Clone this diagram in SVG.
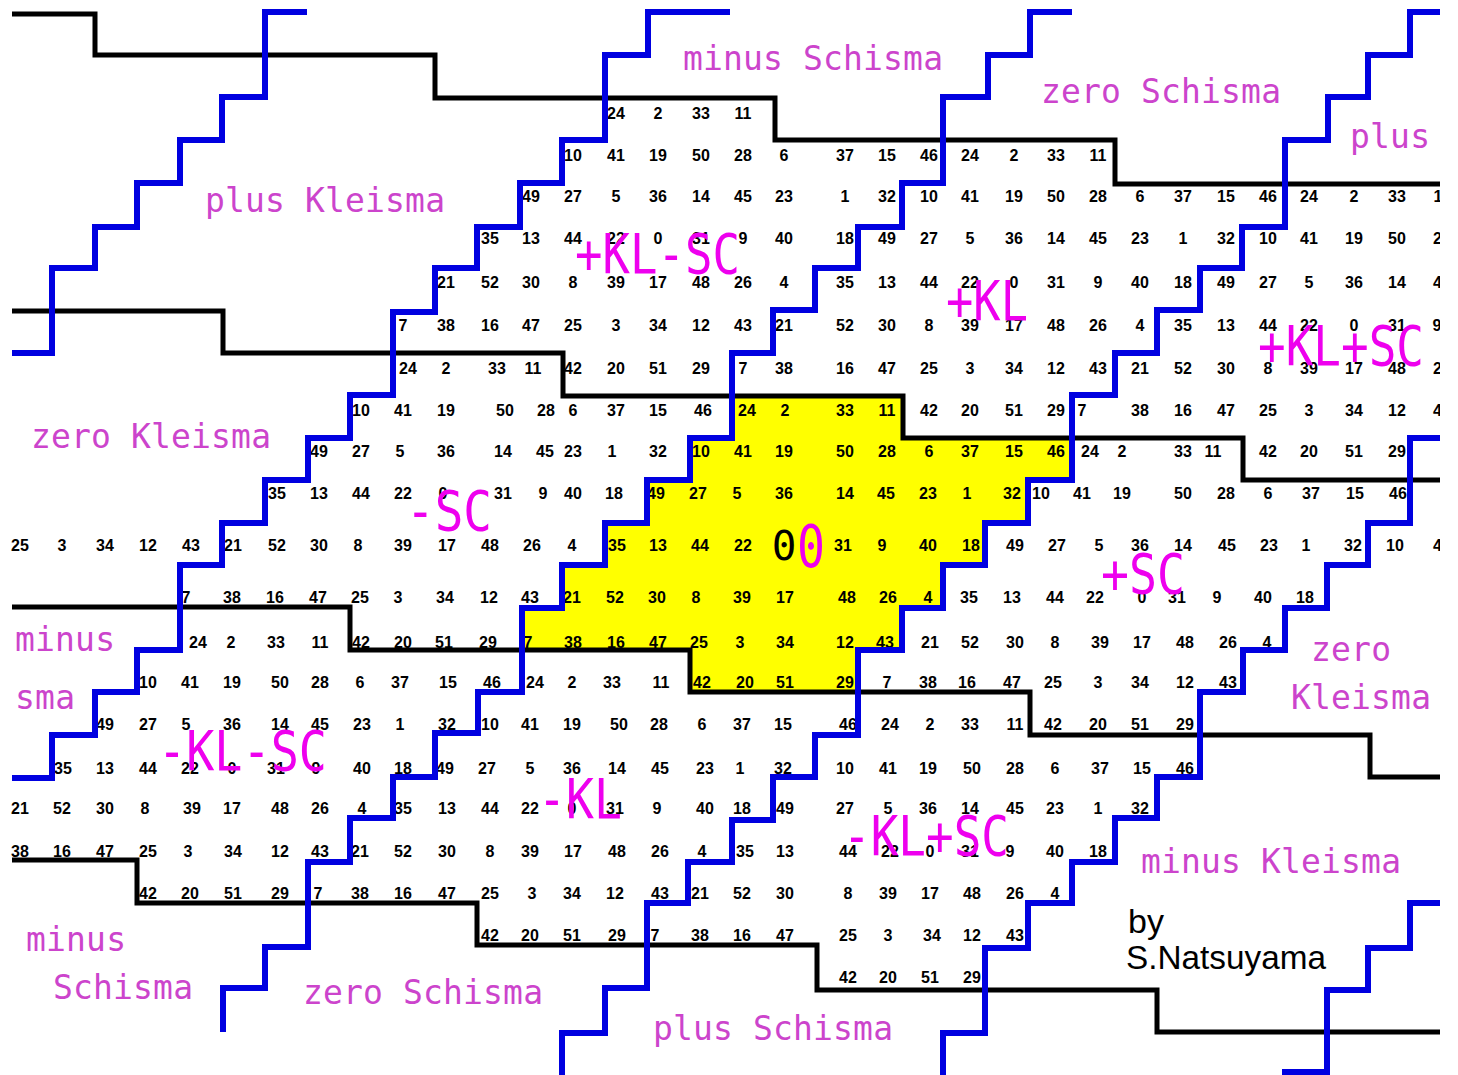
<svg xmlns="http://www.w3.org/2000/svg" width="1458" height="1075" viewBox="0 0 1458 1075">
<style>
.n{font-family:"Liberation Sans",Arial,sans-serif;font-size:16px;font-weight:bold;text-anchor:middle;fill:#000}
.lab{font-family:"DejaVu Sans Mono",monospace;font-size:33px;fill:#cc44cc}
.big{font-family:"DejaVu Sans Mono",monospace;font-size:56px;fill:#ee00ee}
.bk{fill:none;stroke:#000;stroke-width:5}
.bl{fill:none;stroke:#0000e0;stroke-width:6}
</style>
<defs><clipPath id="cp"><rect x="10" y="0" width="1430" height="1075"/></clipPath></defs>
<rect width="1458" height="1075" fill="#fff"/>
<g clip-path="url(#cp)">
<path id="yellow" d="M732,396 H903 V438 H1072 V480 H1028 V523 H985 V565 H943 V608 H902 V650 H858 V692 H690 V650 H522 V608 H562 V565 H605 V523 H647 V480 H690 V438 H732 Z" fill="#ffff00"/>
<g id="numbers" class="n">
<text id="r0" y="119"><tspan x="616">24</tspan><tspan x="658">2</tspan><tspan x="701">33</tspan><tspan x="743">11</tspan></text>
<text id="r1" y="161"><tspan x="573">10</tspan><tspan x="616">41</tspan><tspan x="658">19</tspan><tspan x="701">50</tspan><tspan x="743">28</tspan><tspan x="784">6</tspan><tspan x="845">37</tspan><tspan x="887">15</tspan><tspan x="929">46</tspan><tspan x="970">24</tspan><tspan x="1014">2</tspan><tspan x="1056">33</tspan><tspan x="1098">11</tspan></text>
<text id="r2" y="202"><tspan x="531">49</tspan><tspan x="573">27</tspan><tspan x="616">5</tspan><tspan x="658">36</tspan><tspan x="701">14</tspan><tspan x="743">45</tspan><tspan x="784">23</tspan><tspan x="845">1</tspan><tspan x="887">32</tspan><tspan x="929">10</tspan><tspan x="970">41</tspan><tspan x="1014">19</tspan><tspan x="1056">50</tspan><tspan x="1098">28</tspan><tspan x="1140">6</tspan><tspan x="1183">37</tspan><tspan x="1226">15</tspan><tspan x="1268">46</tspan><tspan x="1309">24</tspan><tspan x="1354">2</tspan><tspan x="1397">33</tspan><tspan x="1442">11</tspan></text>
<text id="r3" y="244"><tspan x="490">35</tspan><tspan x="531">13</tspan><tspan x="573">44</tspan><tspan x="616">22</tspan><tspan x="658">0</tspan><tspan x="701">31</tspan><tspan x="743">9</tspan><tspan x="784">40</tspan><tspan x="845">18</tspan><tspan x="887">49</tspan><tspan x="929">27</tspan><tspan x="970">5</tspan><tspan x="1014">36</tspan><tspan x="1056">14</tspan><tspan x="1098">45</tspan><tspan x="1140">23</tspan><tspan x="1183">1</tspan><tspan x="1226">32</tspan><tspan x="1268">10</tspan><tspan x="1309">41</tspan><tspan x="1354">19</tspan><tspan x="1397">50</tspan><tspan x="1442">28</tspan></text>
<text id="r4" y="288"><tspan x="446">21</tspan><tspan x="490">52</tspan><tspan x="531">30</tspan><tspan x="573">8</tspan><tspan x="616">39</tspan><tspan x="658">17</tspan><tspan x="701">48</tspan><tspan x="743">26</tspan><tspan x="784">4</tspan><tspan x="845">35</tspan><tspan x="887">13</tspan><tspan x="929">44</tspan><tspan x="970">22</tspan><tspan x="1014">0</tspan><tspan x="1056">31</tspan><tspan x="1098">9</tspan><tspan x="1140">40</tspan><tspan x="1183">18</tspan><tspan x="1226">49</tspan><tspan x="1268">27</tspan><tspan x="1309">5</tspan><tspan x="1354">36</tspan><tspan x="1397">14</tspan><tspan x="1442">45</tspan></text>
<text id="r5" y="331"><tspan x="403">7</tspan><tspan x="446">38</tspan><tspan x="490">16</tspan><tspan x="531">47</tspan><tspan x="573">25</tspan><tspan x="616">3</tspan><tspan x="658">34</tspan><tspan x="701">12</tspan><tspan x="743">43</tspan><tspan x="784">21</tspan><tspan x="845">52</tspan><tspan x="887">30</tspan><tspan x="929">8</tspan><tspan x="970">39</tspan><tspan x="1014">17</tspan><tspan x="1056">48</tspan><tspan x="1098">26</tspan><tspan x="1140">4</tspan><tspan x="1183">35</tspan><tspan x="1226">13</tspan><tspan x="1268">44</tspan><tspan x="1309">22</tspan><tspan x="1354">0</tspan><tspan x="1397">31</tspan><tspan x="1437">9</tspan></text>
<text id="r6" y="374"><tspan x="408">24</tspan><tspan x="446">2</tspan><tspan x="497">33</tspan><tspan x="533">11</tspan><tspan x="573">42</tspan><tspan x="616">20</tspan><tspan x="658">51</tspan><tspan x="701">29</tspan><tspan x="743">7</tspan><tspan x="784">38</tspan><tspan x="845">16</tspan><tspan x="887">47</tspan><tspan x="929">25</tspan><tspan x="970">3</tspan><tspan x="1014">34</tspan><tspan x="1056">12</tspan><tspan x="1098">43</tspan><tspan x="1140">21</tspan><tspan x="1183">52</tspan><tspan x="1226">30</tspan><tspan x="1268">8</tspan><tspan x="1309">39</tspan><tspan x="1354">17</tspan><tspan x="1397">48</tspan><tspan x="1442">26</tspan></text>
<text id="r7" y="416"><tspan x="361">10</tspan><tspan x="403">41</tspan><tspan x="446">19</tspan><tspan x="505">50</tspan><tspan x="546">28</tspan><tspan x="573">6</tspan><tspan x="616">37</tspan><tspan x="658">15</tspan><tspan x="703">46</tspan><tspan x="747">24</tspan><tspan x="785">2</tspan><tspan x="845">33</tspan><tspan x="887">11</tspan><tspan x="929">42</tspan><tspan x="970">20</tspan><tspan x="1014">51</tspan><tspan x="1056">29</tspan><tspan x="1082">7</tspan><tspan x="1140">38</tspan><tspan x="1183">16</tspan><tspan x="1226">47</tspan><tspan x="1268">25</tspan><tspan x="1309">3</tspan><tspan x="1354">34</tspan><tspan x="1397">12</tspan><tspan x="1442">43</tspan></text>
<text id="r8" y="457"><tspan x="319">49</tspan><tspan x="361">27</tspan><tspan x="400">5</tspan><tspan x="446">36</tspan><tspan x="503">14</tspan><tspan x="545">45</tspan><tspan x="573">23</tspan><tspan x="612">1</tspan><tspan x="658">32</tspan><tspan x="701">10</tspan><tspan x="743">41</tspan><tspan x="784">19</tspan><tspan x="845">50</tspan><tspan x="887">28</tspan><tspan x="929">6</tspan><tspan x="970">37</tspan><tspan x="1014">15</tspan><tspan x="1056">46</tspan><tspan x="1090">24</tspan><tspan x="1122">2</tspan><tspan x="1183">33</tspan><tspan x="1213">11</tspan><tspan x="1268">42</tspan><tspan x="1309">20</tspan><tspan x="1354">51</tspan><tspan x="1397">29</tspan></text>
<text id="r9" y="499"><tspan x="277">35</tspan><tspan x="319">13</tspan><tspan x="361">44</tspan><tspan x="403">22</tspan><tspan x="443">0</tspan><tspan x="503">31</tspan><tspan x="543">9</tspan><tspan x="573">40</tspan><tspan x="614">18</tspan><tspan x="656">49</tspan><tspan x="698">27</tspan><tspan x="737">5</tspan><tspan x="784">36</tspan><tspan x="845">14</tspan><tspan x="886">45</tspan><tspan x="928">23</tspan><tspan x="967">1</tspan><tspan x="1012">32</tspan><tspan x="1041">10</tspan><tspan x="1082">41</tspan><tspan x="1122">19</tspan><tspan x="1183">50</tspan><tspan x="1226">28</tspan><tspan x="1268">6</tspan><tspan x="1311">37</tspan><tspan x="1355">15</tspan><tspan x="1398">46</tspan></text>
<text id="r10" y="551"><tspan x="20">25</tspan><tspan x="62">3</tspan><tspan x="105">34</tspan><tspan x="148">12</tspan><tspan x="191">43</tspan><tspan x="233">21</tspan><tspan x="277">52</tspan><tspan x="319">30</tspan><tspan x="358">8</tspan><tspan x="403">39</tspan><tspan x="447">17</tspan><tspan x="490">48</tspan><tspan x="532">26</tspan><tspan x="572">4</tspan><tspan x="617">35</tspan><tspan x="658">13</tspan><tspan x="700">44</tspan><tspan x="743">22</tspan><tspan x="843">31</tspan><tspan x="882">9</tspan><tspan x="928">40</tspan><tspan x="971">18</tspan><tspan x="1015">49</tspan><tspan x="1057">27</tspan><tspan x="1099">5</tspan><tspan x="1140">36</tspan><tspan x="1183">14</tspan><tspan x="1227">45</tspan><tspan x="1269">23</tspan><tspan x="1306">1</tspan><tspan x="1353">32</tspan><tspan x="1395">10</tspan><tspan x="1442">41</tspan></text>
<text id="r11" y="603"><tspan x="186">7</tspan><tspan x="232">38</tspan><tspan x="275">16</tspan><tspan x="318">47</tspan><tspan x="360">25</tspan><tspan x="398">3</tspan><tspan x="445">34</tspan><tspan x="489">12</tspan><tspan x="530">43</tspan><tspan x="572">21</tspan><tspan x="615">52</tspan><tspan x="657">30</tspan><tspan x="696">8</tspan><tspan x="742">39</tspan><tspan x="785">17</tspan><tspan x="847">48</tspan><tspan x="888">26</tspan><tspan x="928">4</tspan><tspan x="969">35</tspan><tspan x="1012">13</tspan><tspan x="1055">44</tspan><tspan x="1095">22</tspan><tspan x="1142">0</tspan><tspan x="1177">31</tspan><tspan x="1217">9</tspan><tspan x="1263">40</tspan><tspan x="1305">18</tspan></text>
<text id="r12" y="648"><tspan x="198">24</tspan><tspan x="231">2</tspan><tspan x="276">33</tspan><tspan x="320">11</tspan><tspan x="361">42</tspan><tspan x="403">20</tspan><tspan x="444">51</tspan><tspan x="488">29</tspan><tspan x="528">7</tspan><tspan x="573">38</tspan><tspan x="616">16</tspan><tspan x="658">47</tspan><tspan x="699">25</tspan><tspan x="740">3</tspan><tspan x="785">34</tspan><tspan x="845">12</tspan><tspan x="885">43</tspan><tspan x="930">21</tspan><tspan x="970">52</tspan><tspan x="1015">30</tspan><tspan x="1055">8</tspan><tspan x="1100">39</tspan><tspan x="1142">17</tspan><tspan x="1185">48</tspan><tspan x="1228">26</tspan><tspan x="1267">4</tspan></text>
<text id="r13" y="688"><tspan x="148">10</tspan><tspan x="190">41</tspan><tspan x="232">19</tspan><tspan x="280">50</tspan><tspan x="320">28</tspan><tspan x="360">6</tspan><tspan x="400">37</tspan><tspan x="448">15</tspan><tspan x="492">46</tspan><tspan x="535">24</tspan><tspan x="572">2</tspan><tspan x="612">33</tspan><tspan x="661">11</tspan><tspan x="702">42</tspan><tspan x="745">20</tspan><tspan x="785">51</tspan><tspan x="845">29</tspan><tspan x="887">7</tspan><tspan x="928">38</tspan><tspan x="967">16</tspan><tspan x="1012">47</tspan><tspan x="1053">25</tspan><tspan x="1098">3</tspan><tspan x="1140">34</tspan><tspan x="1185">12</tspan><tspan x="1228">43</tspan></text>
<text id="r14" y="730"><tspan x="105">49</tspan><tspan x="148">27</tspan><tspan x="186">5</tspan><tspan x="232">36</tspan><tspan x="280">14</tspan><tspan x="320">45</tspan><tspan x="362">23</tspan><tspan x="400">1</tspan><tspan x="447">32</tspan><tspan x="490">10</tspan><tspan x="530">41</tspan><tspan x="572">19</tspan><tspan x="619">50</tspan><tspan x="659">28</tspan><tspan x="702">6</tspan><tspan x="742">37</tspan><tspan x="783">15</tspan><tspan x="848">46</tspan><tspan x="890">24</tspan><tspan x="930">2</tspan><tspan x="970">33</tspan><tspan x="1015">11</tspan><tspan x="1053">42</tspan><tspan x="1098">20</tspan><tspan x="1140">51</tspan><tspan x="1185">29</tspan></text>
<text id="r15" y="774"><tspan x="63">35</tspan><tspan x="105">13</tspan><tspan x="148">44</tspan><tspan x="190">22</tspan><tspan x="232">0</tspan><tspan x="276">31</tspan><tspan x="316">9</tspan><tspan x="362">40</tspan><tspan x="403">18</tspan><tspan x="445">49</tspan><tspan x="487">27</tspan><tspan x="530">5</tspan><tspan x="572">36</tspan><tspan x="617">14</tspan><tspan x="660">45</tspan><tspan x="705">23</tspan><tspan x="740">1</tspan><tspan x="783">32</tspan><tspan x="845">10</tspan><tspan x="888">41</tspan><tspan x="928">19</tspan><tspan x="972">50</tspan><tspan x="1015">28</tspan><tspan x="1055">6</tspan><tspan x="1100">37</tspan><tspan x="1142">15</tspan><tspan x="1185">46</tspan></text>
<text id="r16" y="814"><tspan x="20">21</tspan><tspan x="62">52</tspan><tspan x="105">30</tspan><tspan x="145">8</tspan><tspan x="192">39</tspan><tspan x="232">17</tspan><tspan x="280">48</tspan><tspan x="320">26</tspan><tspan x="362">4</tspan><tspan x="403">35</tspan><tspan x="447">13</tspan><tspan x="490">44</tspan><tspan x="530">22</tspan><tspan x="572">0</tspan><tspan x="615">31</tspan><tspan x="657">9</tspan><tspan x="705">40</tspan><tspan x="742">18</tspan><tspan x="785">49</tspan><tspan x="845">27</tspan><tspan x="888">5</tspan><tspan x="928">36</tspan><tspan x="970">14</tspan><tspan x="1015">45</tspan><tspan x="1055">23</tspan><tspan x="1098">1</tspan><tspan x="1140">32</tspan></text>
<text id="r17" y="857"><tspan x="20">38</tspan><tspan x="62">16</tspan><tspan x="105">47</tspan><tspan x="148">25</tspan><tspan x="188">3</tspan><tspan x="233">34</tspan><tspan x="280">12</tspan><tspan x="320">43</tspan><tspan x="360">21</tspan><tspan x="403">52</tspan><tspan x="447">30</tspan><tspan x="490">8</tspan><tspan x="530">39</tspan><tspan x="573">17</tspan><tspan x="617">48</tspan><tspan x="660">26</tspan><tspan x="702">4</tspan><tspan x="745">35</tspan><tspan x="785">13</tspan><tspan x="848">44</tspan><tspan x="890">22</tspan><tspan x="930">0</tspan><tspan x="970">31</tspan><tspan x="1010">9</tspan><tspan x="1055">40</tspan><tspan x="1098">18</tspan></text>
<text id="r18" y="899"><tspan x="148">42</tspan><tspan x="190">20</tspan><tspan x="233">51</tspan><tspan x="280">29</tspan><tspan x="318">7</tspan><tspan x="360">38</tspan><tspan x="403">16</tspan><tspan x="447">47</tspan><tspan x="490">25</tspan><tspan x="532">3</tspan><tspan x="572">34</tspan><tspan x="615">12</tspan><tspan x="660">43</tspan><tspan x="700">21</tspan><tspan x="742">52</tspan><tspan x="785">30</tspan><tspan x="848">8</tspan><tspan x="888">39</tspan><tspan x="930">17</tspan><tspan x="972">48</tspan><tspan x="1015">26</tspan><tspan x="1055">4</tspan></text>
<text id="r19" y="941"><tspan x="490">42</tspan><tspan x="530">20</tspan><tspan x="572">51</tspan><tspan x="617">29</tspan><tspan x="655">7</tspan><tspan x="700">38</tspan><tspan x="742">16</tspan><tspan x="785">47</tspan><tspan x="848">25</tspan><tspan x="888">3</tspan><tspan x="932">34</tspan><tspan x="972">12</tspan><tspan x="1015">43</tspan></text>
<text id="r20" y="983"><tspan x="848">42</tspan><tspan x="888">20</tspan><tspan x="930">51</tspan><tspan x="972">29</tspan></text>
</g>
<g id="connectors">
<path id="B1" class="bk" d="M12,14 H95 V55 H435 V98 H775 V140 H1115 V184 H1440"/>
<path id="B2" class="bk" d="M12,311 H223 V353 H563 V396 H903 V438 H1243 V480 H1440"/>
<path id="B3" class="bk" d="M12,607 H350 V650 H690 V692 H1030 V735 H1370 V777 H1440"/>
<path id="B4" class="bk" d="M12,860 H137 V903 H477 V945 H817 V990 H1157 V1032 H1440"/>
<path id="L1" class="bl" d="M12,353 H52 V268 H95 V227 H137 V183 H180 V140 H222 V97 H265 V12 H307"/>
<path id="L2" class="bl" d="M12,778 H52 V735 H95 V692 H137 V650 H180 V565 H222 V523 H265 V480 H308 V438 H350 V395 H393 V312 H435 V268 H477 V227 H520 V183 H562 V140 H605 V55 H648 V12 H730"/>
<path id="L3" class="bl" d="M223,1032 V988 H265 V947 H308 V862 H350 V818 H393 V777 H435 V733 H478 V692 H522 V608 H562 V565 H605 V523 H647 V480 H690 V438 H732 V353 H773 V310 H815 V268 H858 V227 H902 V183 H943 V97 H988 V55 H1030 V12 H1072"/>
<path id="L4" class="bl" d="M562,1078 V1033 H605 V988 H647 V903 H688 V862 H732 V820 H773 V777 H815 V735 H858 V650 H902 V608 H943 V565 H985 V523 H1028 V480 H1072 V395 H1115 V353 H1157 V310 H1200 V268 H1242 V227 H1285 V140 H1328 V97 H1368 V55 H1410 V12 H1440"/>
<path id="L5" class="bl" d="M943,1078 V1033 H985 V948 H1028 V903 H1072 V862 H1115 V818 H1157 V777 H1200 V692 H1243 V650 H1285 V608 H1327 V565 H1368 V523 H1410 V438 H1440"/>
<path id="L6" class="bl" d="M1282,1072 H1327 V990 H1368 V948 H1410 V903 H1440"/>
</g>
</g>
<g id="region-labels" class="lab">
<text x="683" y="70" textLength="260" lengthAdjust="spacing">minus Schisma</text>
<text x="1041" y="103" textLength="240" lengthAdjust="spacing">zero Schisma</text>
<text x="1350" y="148" textLength="80" lengthAdjust="spacing">plus</text>
<text x="205" y="212" textLength="240" lengthAdjust="spacing">plus Kleisma</text>
<text x="31" y="448" textLength="240" lengthAdjust="spacing">zero Kleisma</text>
<text x="15" y="651" textLength="100" lengthAdjust="spacing">minus</text>
<text x="15" y="709" textLength="60" lengthAdjust="spacing">sma</text>
<text x="1311" y="661" textLength="80" lengthAdjust="spacing">zero</text>
<text x="1291" y="709" textLength="140" lengthAdjust="spacing">Kleisma</text>
<text x="1141" y="873" textLength="260" lengthAdjust="spacing">minus Kleisma</text>
<text x="26" y="951" textLength="100" lengthAdjust="spacing">minus</text>
<text x="53" y="999" textLength="140" lengthAdjust="spacing">Schisma</text>
<text x="303" y="1004" textLength="240" lengthAdjust="spacing">zero Schisma</text>
<text x="653" y="1040" textLength="240" lengthAdjust="spacing">plus Schisma</text>
</g>
<g id="comma-labels" class="big">
<text x="575" y="273" textLength="165" lengthAdjust="spacingAndGlyphs">+KL-SC</text>
<text x="946" y="320" textLength="82" lengthAdjust="spacingAndGlyphs">+KL</text>
<text x="1258" y="365" textLength="166" lengthAdjust="spacingAndGlyphs">+KL+SC</text>
<text x="406" y="530" textLength="86" lengthAdjust="spacingAndGlyphs">-SC</text>
<text x="1101" y="593" textLength="84" lengthAdjust="spacingAndGlyphs">+SC</text>
<text x="158" y="770" textLength="169" lengthAdjust="spacingAndGlyphs">-KL-SC</text>
<text x="538" y="818" textLength="84" lengthAdjust="spacingAndGlyphs">-KL</text>
<text x="843" y="855" textLength="166" lengthAdjust="spacingAndGlyphs">-KL+SC</text>
</g>
<g id="origin">
<text x="784" y="560" text-anchor="middle" font-family="DejaVu Sans Mono, monospace" font-size="41" fill="#000">0</text>
<text x="797" y="567" font-family="DejaVu Sans Mono, monospace" font-size="58" fill="#ee00ee" textLength="28" lengthAdjust="spacingAndGlyphs">0</text>
</g>
<g id="credit" font-family="Liberation Sans, Arial, sans-serif" fill="#000">
<text x="1128" y="933" font-size="34">by</text>
<text x="1126" y="969" font-size="34" textLength="200" lengthAdjust="spacingAndGlyphs">S.Natsuyama</text>
</g>
</svg>
